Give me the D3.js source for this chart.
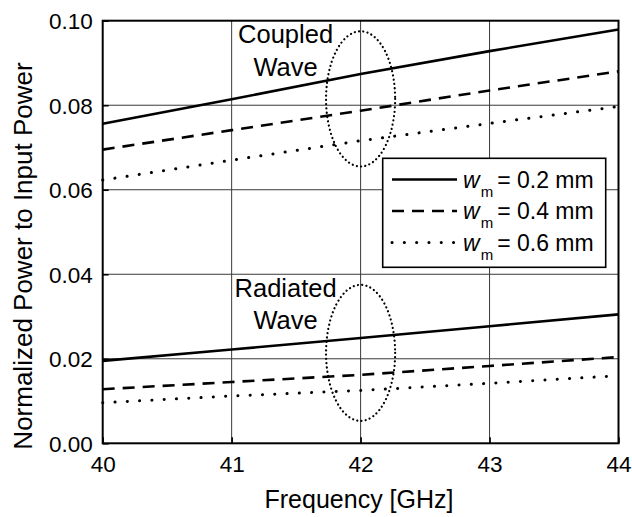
<!DOCTYPE html>
<html>
<head>
<meta charset="utf-8">
<script src="https://cdn.jsdelivr.net/npm/d3@7"></script>
<style>
  html, body { margin: 0; padding: 0; background: #fff; }
  svg { display: block; font-family: "Liberation Sans", Arial, Helvetica, sans-serif; }
</style>
</head>
<body>
<svg id="chart" width="632" height="517"></svg>
<script>
// ---- Data ----
const frequencies = [40, 41, 42, 43, 44];
const coupled_w02 = [0.0756, 0.0814, 0.0874, 0.0928, 0.0979];
const coupled_w04 = [0.0695, 0.0741, 0.0787, 0.0835, 0.0880];
const coupled_w06 = [0.0623, 0.0670, 0.0716, 0.0757, 0.0797];
const radiated_w02 = [0.0195, 0.0222, 0.0249, 0.0277, 0.0305];
const radiated_w04 = [0.0128, 0.0145, 0.0162, 0.0183, 0.0204];
const radiated_w06 = [0.0096, 0.0112, 0.0125, 0.0142, 0.0160];
const seriesWidths = ["0.2", "0.4", "0.6"];
const xTicks = [40, 41, 42, 43, 44];
const yTicks = [0.00, 0.02, 0.04, 0.06, 0.08, 0.10];
const xTitle = "Frequency [GHz]";
const yTitle = "Normalized Power to Input Power";
const groupLabels = [["Coupled", "Wave"], ["Radiated", "Wave"]];
// ellipse annotations: [centre freq, centre value, half-width (GHz), half-height (value)]
const ellipses = [[42, 0.0815, 0.268, 0.0160], [42, 0.0214, 0.268, 0.0161]];

// ---- Layout ----
const svg = d3.select("#chart");
const L = 102.7, R = 618.5, T = 20.7, B = 443.3;
const x = d3.scaleLinear().domain([40, 44]).range([L, R]);
const y = d3.scaleLinear().domain([0, 0.10]).range([B, T]);

svg.append("rect").attr("width", 632).attr("height", 517).attr("fill", "#fff");

// grid
const grid = svg.append("g");
grid.selectAll("line.gx").data(xTicks.slice(1, -1)).join("line")
  .attr("x1", d => x(d)).attr("x2", d => x(d)).attr("y1", T).attr("y2", B)
  .attr("stroke", "#3a3a3a").attr("stroke-width", 1);
grid.selectAll("line.gy").data(yTicks.slice(1, -1)).join("line")
  .attr("y1", d => y(d)).attr("y2", d => y(d)).attr("x1", L).attr("x2", R)
  .attr("stroke", "#3a3a3a").attr("stroke-width", 1);

// axes (ticks inward, labels outside)
const fmtY = d3.format(".2f");
const xAxis = svg.append("g").attr("transform", `translate(0,${B})`)
  .call(d3.axisBottom(x).tickValues(xTicks).tickFormat(d3.format("d")).tickSizeInner(-6).tickSizeOuter(0).tickPadding(12));
const yAxis = svg.append("g").attr("transform", `translate(${L},0)`)
  .call(d3.axisLeft(y).tickValues(yTicks).tickFormat(fmtY).tickSizeInner(-6).tickSizeOuter(0).tickPadding(10));
[xAxis, yAxis].forEach(g => {
  g.select(".domain").remove();
  g.selectAll(".tick line").attr("stroke", "#000").attr("stroke-width", 1.6);
  g.selectAll(".tick text").attr("fill", "#000").style("font-size", "22.5px")
    .style("font-family", "'Liberation Sans', Arial, sans-serif");
});
xAxis.selectAll(".tick text").attr("dy", null).attr("y", 28.5);
yAxis.selectAll(".tick text").attr("dy", "0.35em");

// frame
svg.append("rect").attr("x", L).attr("y", T).attr("width", R - L).attr("height", B - T)
  .attr("fill", "none").attr("stroke", "#000").attr("stroke-width", 2);

// series
const styles = [
  { dash: null, cap: "butt", w: 2.6 },
  { dash: "12,8", cap: "butt", w: 2.6 },
  { dash: "0.1,12.2", cap: "round", w: 3 }
];
const line = d3.line().x((d, i) => x(frequencies[i])).y(d => y(d));
const groups = [[coupled_w02, coupled_w04, coupled_w06], [radiated_w02, radiated_w04, radiated_w06]];
groups.forEach(g => g.forEach((vals, k) => {
  svg.append("path").datum(vals).attr("d", line)
    .attr("fill", "none").attr("stroke", "#000")
    .attr("stroke-width", styles[k].w)
    .attr("stroke-linecap", styles[k].cap)
    .attr("stroke-dasharray", styles[k].dash);
}));

// ellipses
ellipses.forEach(e => {
  const cx = x(e[0]), cy = y(e[1]);
  svg.append("ellipse").attr("cx", cx).attr("cy", cy)
    .attr("rx", x(e[0] + e[2]) - cx).attr("ry", cy - y(e[1] + e[3]))
    .attr("fill", "none").attr("stroke", "#000").attr("stroke-width", 2.2)
    .attr("stroke-linecap", "round").attr("stroke-dasharray", "0.1,4.2");
});

// group labels
groupLabels.forEach((lines, gi) => {
  const e = ellipses[gi];
  const cx = x(e[0]) - 75;
  const top = y(e[1] + e[3]) + 12;
  lines.forEach((t, li) => {
    svg.append("text").attr("x", cx).attr("y", top + li * 32.5)
      .attr("text-anchor", "middle").style("font-size", "25.5px").attr("fill", "#000").text(t);
  });
});

// legend
const lg = svg.append("g");
lg.append("rect").attr("x", 382.7).attr("y", 158.3).attr("width", 223).attr("height", 109)
  .attr("fill", "#fff").attr("stroke", "#000").attr("stroke-width", 1.6);
seriesWidths.forEach((w, k) => {
  const yy = 179.5 + k * 31.5;
  lg.append("line").attr("x1", 392).attr("x2", 457).attr("y1", yy).attr("y2", yy)
    .attr("stroke", "#000").attr("stroke-width", styles[k].w)
    .attr("stroke-linecap", styles[k].cap)
    .attr("stroke-dasharray", styles[k].dash);
  const t = lg.append("text").attr("x", 463).attr("y", yy + 8).attr("fill", "#000").style("font-size", "23px");
  t.append("tspan").style("font-style", "italic").text("w");
  t.append("tspan").style("font-size", "15px").attr("dy", 9).attr("dx", 1).text("m");
  t.append("tspan").attr("dy", -9).attr("dx", 4).text("= " + w + " mm");
});

// axis titles
svg.append("text").attr("x", 359).attr("y", 508).attr("text-anchor", "middle")
  .style("font-size", "25px").attr("fill", "#000").text(xTitle);
svg.append("text").attr("transform", "translate(31.5,256) rotate(-90)").attr("text-anchor", "middle")
  .style("font-size", "26px").attr("fill", "#000").text(yTitle);
</script>
</body>
</html>
